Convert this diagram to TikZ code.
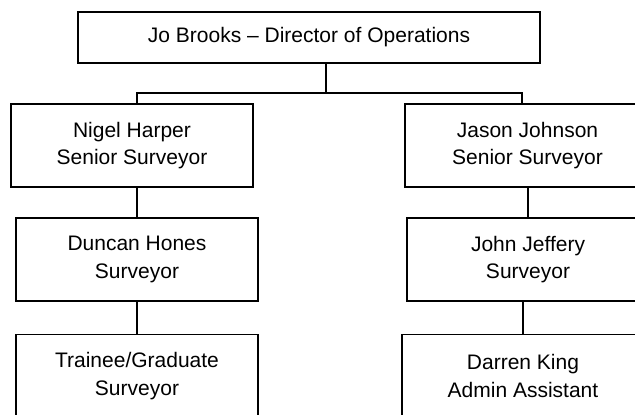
\documentclass[tikz,border=0pt]{standalone}
\usepackage{fontspec}
\setmainfont{Liberation Sans}
\usetikzlibrary{positioning,calc}

\tikzset{
  staff/.style={draw, line width=0.9pt, minimum width=121pt, minimum height=41.5pt,
    align=center, inner sep=0pt, font=\fontsize{10.5}{13.9}\selectfont},
  link/.style={line width=0.9pt}
}

\begin{document}
\begin{tikzpicture}[x=0.5pt, y=-0.5pt]
\clip (0,0) rectangle (635,415);
% 人员
\node[staff, minimum width=231pt, minimum height=25.5pt] (jo) at (309,37.5) {Jo Brooks -- Director of Operations};
\node[staff] (nigel) at (132,145.5) {Nigel Harper\\Senior Surveyor};
\node[staff, minimum width=122.5pt] (jason) at (527.5,145.5) {Jason Johnson\\Senior Surveyor};
\node[staff] (duncan) at (137,259.5) {Duncan Hones\\Surveyor};
\node[staff] (john) at (528,259.5) {John Jeffery\\Surveyor};
\node[staff] (trainee) at (137,376) {Trainee/Graduate\\Surveyor};
\node[staff] (darren) at (523,376) {Darren King\\Admin Assistant};

% 连线
\coordinate (busM) at (326,93);
\coordinate (busL) at (137,93);
\coordinate (busR) at (522,93);
\draw[link] (busM |- jo.south) -- (busM);
\draw[link] (busL |- nigel.north) -- (busL) -- (busR) -- (busR |- jason.north);
\draw[link] (duncan.north |- nigel.south) -- (duncan.north);
\draw[link] (duncan.south) -- (trainee.north);
\draw[link] (john.north |- jason.south) -- (john.north);
\draw[link] (darren.north |- john.south) -- (darren.north);
\end{tikzpicture}
\end{document}
